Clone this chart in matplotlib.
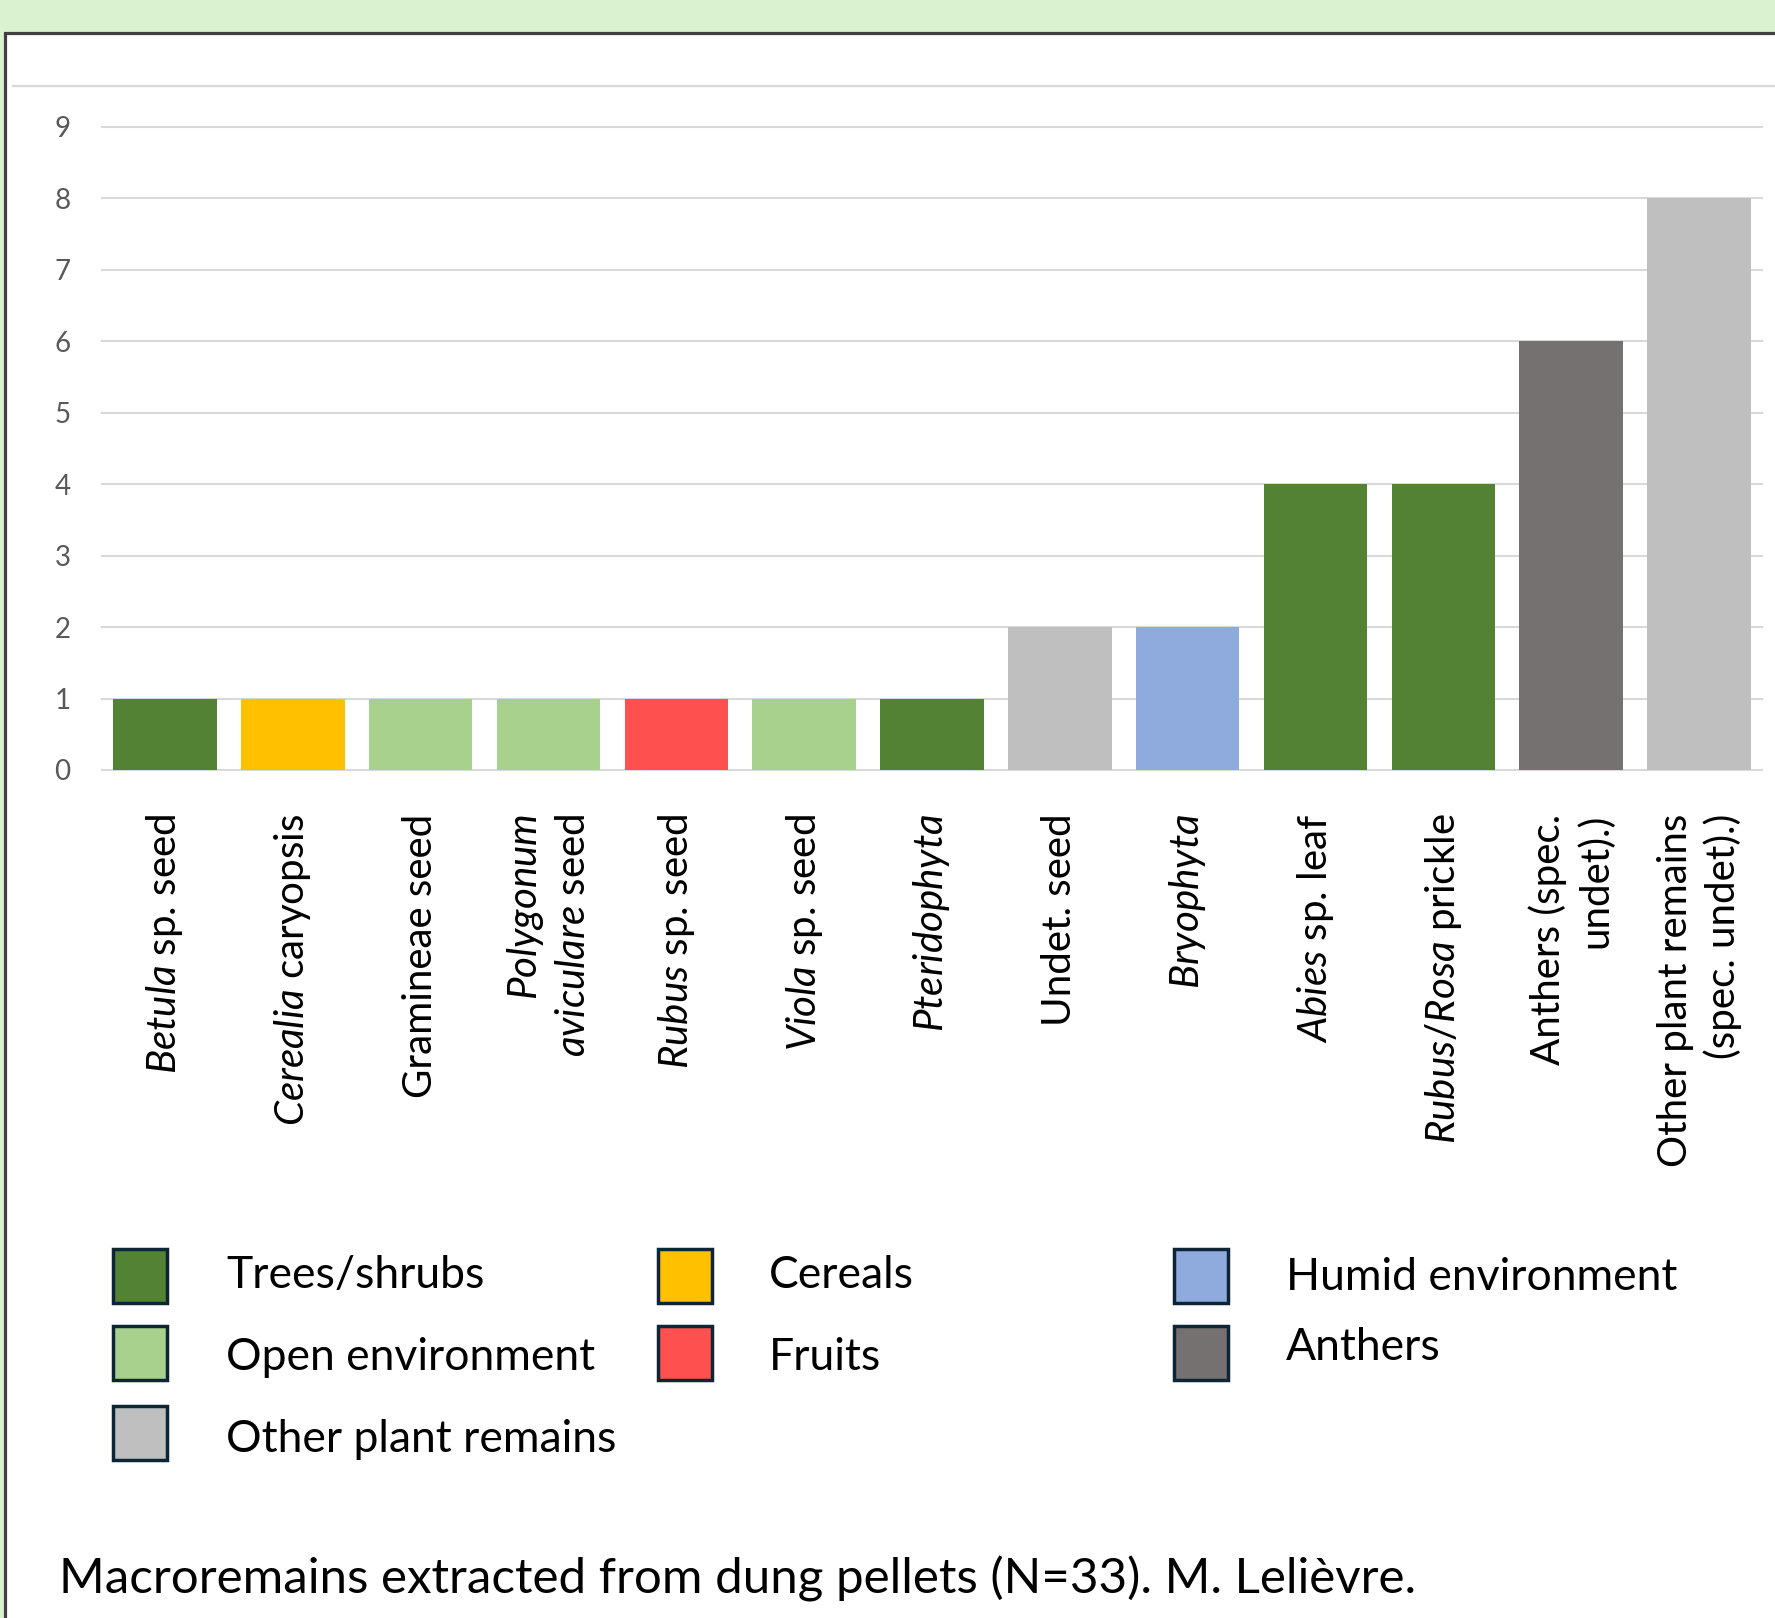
import matplotlib
matplotlib.use("Agg")
import matplotlib.pyplot as plt
from matplotlib.patches import Rectangle
from matplotlib.lines import Line2D

W, H = 1775, 1618

plt.rcParams["font.family"] = ["Lato", "DejaVu Sans"]
plt.rcParams["mathtext.fontset"] = "custom"
plt.rcParams["mathtext.rm"] = "Lato"
plt.rcParams["mathtext.it"] = "Lato:italic"

categories = [
    r"$\mathit{Betula}$ sp. seed",
    r"$\mathit{Cerealia}$ caryopsis",
    "Gramineae seed",
    r"$\mathit{Polygonum}$" + "\n" + r"$\mathit{aviculare}$ seed",
    r"$\mathit{Rubus}$ sp. seed",
    r"$\mathit{Viola}$ sp. seed",
    r"$\mathit{Pteridophyta}$",
    "Undet. seed",
    r"$\mathit{Bryophyta}$",
    r"$\mathit{Abies}$ sp. leaf",
    r"$\mathit{Rubus/Rosa}$ prickle",
    "Anthers (spec.\nundet).)",
    "Other plant remains\n(spec. undet).)",
]
counts = [1, 1, 1, 1, 1, 1, 1, 2, 2, 4, 4, 6, 8]
groups = [
    "Trees/shrubs", "Cereals", "Open environment", "Open environment",
    "Fruits", "Open environment", "Trees/shrubs", "Other plant remains",
    "Humid environment", "Trees/shrubs", "Trees/shrubs", "Anthers",
    "Other plant remains",
]

group_colors = {
    "Trees/shrubs": "#548235",
    "Open environment": "#A9D18E",
    "Other plant remains": "#BFBFBF",
    "Cereals": "#FFC000",
    "Fruits": "#FF5050",
    "Humid environment": "#8FAADC",
    "Anthers": "#767171",
}

# legend layout: (group, square left px, square top px, text left px, text centre px)
legend_items = [
    ("Trees/shrubs", 113, 1249, 226, 1276),
    ("Open environment", 113, 1326, 226, 1358),
    ("Other plant remains", 113, 1406, 226, 1440),
    ("Cereals", 658, 1249, 769, 1276),
    ("Fruits", 658, 1326, 769, 1358),
    ("Humid environment", 1174, 1249, 1286, 1278),
    ("Anthers", 1174, 1326, 1286, 1347),
]


def fx(px):
    return px / W


def fy(py):
    return 1 - py / H


def main():
    fig = plt.figure(figsize=(W / 100, H / 100), dpi=100, facecolor="#DAF2D0")

    # white panel with dark frame on top/left
    fig.add_artist(Rectangle((fx(5), fy(1650)), 1.1, (1650 - 33) / H,
                             transform=fig.transFigure, facecolor="white",
                             edgecolor="#404040", lw=2.3, zorder=0))
    fig.add_artist(Line2D([fx(13), 1], [fy(86), fy(86)], transform=fig.transFigure,
                          color="#D9D9D9", lw=1.6))

    y0, y9 = 770, 127
    unit = (y0 - y9) / 9
    ax = fig.add_axes([fx(101), fy(y0 + 0.03 * unit), fx(1763) - fx(101),
                       (9.06 * unit) / H])
    ax.set_facecolor("none")

    x = list(range(len(categories)))
    colors = [group_colors[g] for g in groups]
    ax.bar(x, counts, width=0.81, color=colors, zorder=3)

    ax.set_xlim(-0.5, 12.5)
    ax.set_ylim(-0.03, 9.03)
    ax.set_yticks(range(10))
    ax.grid(axis="y", color="#D9D9D9", lw=1.5, zorder=0)
    for s in ax.spines.values():
        s.set_visible(False)
    ax.tick_params(axis="y", length=0, pad=22, labelsize=20, labelcolor="#595959")
    ax.tick_params(axis="x", length=0, pad=30)
    ax.set_xticks(x)
    ax.set_xticklabels(categories, rotation=90, ha="center", va="top",
                       multialignment="right", fontsize=29, color="black",
                       linespacing=1.3)

    for name, sx, sy, tx, ty in legend_items:
        fig.add_artist(Rectangle((fx(sx), fy(sy + 54)), 54 / W, 54 / H,
                                 transform=fig.transFigure,
                                 facecolor=group_colors[name],
                                 edgecolor="#0D2535", lw=2.5))
        fig.text(fx(tx), fy(ty), name, fontsize=32, va="center", ha="left")

    fig.text(fx(59), fy(1579), "Macroremains extracted from dung pellets (N=33). M. Lelièvre.",
             fontsize=35.5, va="center", ha="left")

    fig.savefig("out.png", dpi=100, facecolor=fig.get_facecolor())
    plt.close(fig)


if __name__ == "__main__":
    main()
